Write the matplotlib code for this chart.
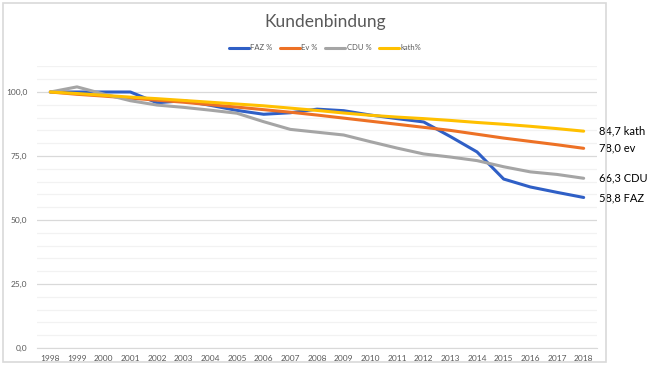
import matplotlib.pyplot as plt
from matplotlib.patches import Rectangle
from matplotlib.ticker import MultipleLocator, FuncFormatter

years = [str(y) for y in range(1998, 2019)]
faz = [100, 100, 100, 100, 95.8, 96.6, 94.8, 92.8, 91.3, 91.9, 93.3, 92.7,
       91.0, 89.6, 88.3, 82.6, 76.6, 66.0, 62.9, 60.8, 58.8]
ev = [100, 99.1, 98.4, 97.6, 96.8, 96.0, 95.0, 94.1, 93.1, 92.1, 91.0, 89.8,
      88.6, 87.4, 86.2, 85.0, 83.5, 82.0, 80.7, 79.4, 78.0]
cdu = [100, 102.0, 99.2, 96.6, 94.9, 94.0, 92.9, 91.7, 88.4, 85.4, 84.3, 83.2,
       80.6, 78.1, 75.8, 74.6, 73.2, 70.8, 68.8, 67.8, 66.3]
kath = [100, 99.4, 98.7, 98.0, 97.4, 96.7, 96.0, 95.3, 94.6, 93.7, 92.8, 91.8,
        90.9, 90.2, 89.6, 88.9, 88.1, 87.4, 86.6, 85.7, 84.7]

names = ['FAZ %', 'Ev %', 'CDU %', 'kath%']
end_labels = ['58,8 FAZ', '78,0 ev', '66,3 CDU', '84,7 kath']
colors = ['#2F5FC6', '#ED7125', '#A5A5A5', '#FFC000']
series = [faz, ev, cdu, kath]

plt.rcParams['font.family'] = ['Lato', 'DejaVu Sans']

fig = plt.figure(figsize=(6.5, 3.75), dpi=100)
fig.patch.set_facecolor('white')

# chart frame like excel
fig.patches.append(Rectangle((3 / 650, 1 - 362 / 375), 603 / 650, 359 / 375,
                             transform=fig.transFigure, fill=False,
                             edgecolor='#D9D9D9', linewidth=1.2))

ax = fig.add_axes([37 / 650, 27 / 375, 560 / 650, 281.6 / 375])
x = list(range(len(years)))
for vals, name, c in zip(series, names, colors):
    ax.plot(x, vals, color=c, linewidth=2.2, label=name, solid_capstyle='round')

ax.set_xlim(-0.5, len(years) - 0.5)
ax.set_ylim(0, 110)
ax.yaxis.set_major_locator(MultipleLocator(25))
ax.yaxis.set_minor_locator(MultipleLocator(5))
ax.yaxis.set_major_formatter(FuncFormatter(lambda v, p: f'{v:.1f}'.replace('.', ',')))
ax.grid(which='major', axis='y', color='#D9D9D9', linewidth=0.9)
ax.grid(which='minor', axis='y', color='#F2F2F2', linewidth=0.9)
ax.set_axisbelow(True)
ax.set_xticks(x)
ax.set_xticklabels(years)
for s in ['top', 'right', 'left']:
    ax.spines[s].set_visible(False)
ax.spines['bottom'].set_color('#D9D9D9')
ax.tick_params(axis='both', which='both', length=0, labelsize=6, colors='#595959')
ax.tick_params(axis='y', pad=7)
ax.tick_params(axis='x', pad=5)

fig.text(325 / 650, 1 - 22 / 375, 'Kundenbindung', ha='center', va='center',
         fontsize=12.5, color='#595959')
fig.legend(loc='center', bbox_to_anchor=(325 / 650, 1 - 48 / 375), ncol=4,
           frameon=False, fontsize=5.5, handlelength=2.6, columnspacing=1.0,
           handletextpad=0.2, labelcolor='#595959')

for vals, lab in zip(series, end_labels):
    ax.annotate(lab, xy=(x[-1], vals[-1]), xytext=(599 / 650, vals[-1]),
                textcoords=('figure fraction', 'data'), va='center', ha='left',
                fontsize=8, color='black', annotation_clip=False,
                bbox=dict(facecolor='white', edgecolor='none', pad=1.0))

fig.savefig('out.png', dpi=100)
